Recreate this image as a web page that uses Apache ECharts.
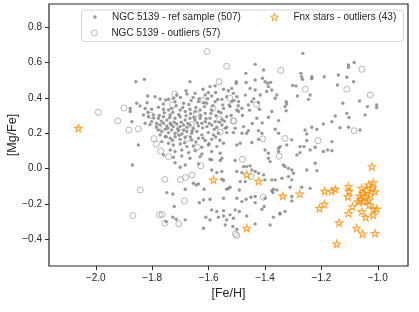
<!DOCTYPE html>
<html><head><meta charset="utf-8">
<script src="https://cdn.jsdelivr.net/npm/echarts@6/dist/echarts.min.js"></script>
<style>html,body{margin:0;padding:0;background:#fff}#c{width:419px;height:312px}</style>
</head><body><div id="c"></div>
<script>
const xTicks = [-2.0,-1.8,-1.6,-1.4,-1.2,-1.0];
const yTicks = [-0.4,-0.2,0.0,0.2,0.4,0.6,0.8];
const refName = 'NGC 5139 - ref sample (507)';
const outName = 'NGC 5139 - outliers (57)';
const fnxName = 'Fnx stars - outliers (43)';

const refSample = [
[-1.858,0.491],[-1.828,0.504],[-1.666,0.491],[-1.595,0.463],[-1.577,0.467],[-1.547,0.448],[-1.530,0.440],
[-1.713,0.416],[-1.677,0.421],[-1.648,0.425],[-1.612,0.416],[-1.601,0.429],[-1.589,0.410],
[-1.816,0.410],[-1.790,0.406],[-1.772,0.393],[-1.752,0.387],[-1.725,0.397],[-1.719,0.378],
[-1.689,0.369],[-1.662,0.384],[-1.636,0.378],[-1.618,0.372],[-1.607,0.369],[-1.577,0.378],[-1.553,0.391],[-1.536,0.406],[-1.527,0.359],
[-1.855,0.369],[-1.843,0.354],[-1.878,0.340],[-1.878,0.322],
[-1.825,0.340],[-1.802,0.335],[-1.778,0.346],[-1.760,0.335],[-1.742,0.331],[-1.731,0.340],[-1.701,0.331],[-1.683,0.322],
[-1.666,0.335],[-1.648,0.322],[-1.630,0.331],[-1.612,0.312],[-1.589,0.331],[-1.565,0.322],[-1.547,0.340],
[-1.831,0.303],[-1.813,0.293],[-1.796,0.303],[-1.778,0.284],[-1.760,0.293],[-1.748,0.274],[-1.736,0.303],[-1.719,0.284],
[-1.701,0.293],[-1.683,0.274],[-1.666,0.284],[-1.648,0.274],[-1.630,0.284],[-1.612,0.265],[-1.595,0.284],[-1.577,0.265],[-1.553,0.278],[-1.536,0.293],
[-1.872,0.265],[-1.825,0.256],[-1.802,0.265],
[-1.784,0.256],[-1.772,0.246],[-1.760,0.256],[-1.748,0.241],[-1.736,0.256],[-1.725,0.237],[-1.713,0.252],[-1.701,0.237],[-1.689,0.246],[-1.677,0.233],[-1.666,0.246],[-1.654,0.227],[-1.636,0.241],[-1.624,0.256],[-1.606,0.237],[-1.589,0.246],[-1.571,0.233],[-1.553,0.246],[-1.541,0.227],
[-1.778,0.218],[-1.766,0.209],[-1.754,0.222],[-1.742,0.203],[-1.731,0.218],[-1.719,0.199],[-1.707,0.214],[-1.695,0.195],[-1.677,0.209],[-1.660,0.199],[-1.642,0.209],[-1.624,0.190],[-1.601,0.203],[-1.583,0.190],[-1.565,0.199],
[-1.772,0.190],[-1.754,0.180],[-1.736,0.171],[-1.719,0.180],[-1.701,0.165],[-1.683,0.177],[-1.660,0.161],[-1.636,0.171],[-1.612,0.158],[-1.589,0.165],
[-1.766,0.152],[-1.742,0.143],[-1.725,0.133],[-1.701,0.139],[-1.677,0.124],[-1.654,0.128],[-1.624,0.120],[-1.601,0.133],[-1.571,0.124],[-1.547,0.143],
[-1.849,0.133],[-1.736,0.105],[-1.719,0.096],[-1.695,0.105],[-1.671,0.090],[-1.648,0.101],[-1.624,0.082],[-1.589,0.096],[-1.559,0.086],
[-1.760,0.077],[-1.725,0.064],[-1.695,0.071],[-1.666,0.058],[-1.630,0.067],[-1.595,0.052],[-1.553,0.058],
[-1.719,0.033],[-1.683,0.020],[-1.636,0.026],[-1.589,0.049],[-1.559,0.045],
[-1.870,0.020],[-1.701,0.007],[-1.589,-0.008],[-1.571,-0.023],[-1.553,-0.017],
[-1.435,0.589],[-1.468,0.538],[-1.405,0.557],[-1.409,0.510],[-1.400,0.491],[-1.391,0.482],[-1.380,0.487],[-1.388,0.463],[-1.376,0.444],[-1.394,0.435],[-1.358,0.416],[-1.364,0.397],
[-1.502,0.491],[-1.502,0.482],[-1.467,0.486],[-1.435,0.500],[-1.518,0.453],[-1.512,0.425],[-1.500,0.406],[-1.453,0.453],[-1.435,0.444],[-1.417,0.416],
[-1.266,0.651],[-1.104,0.585],[-1.104,0.572],[-1.084,0.599],[-1.273,0.538],[-1.270,0.519],[-1.267,0.504],[-1.234,0.519],[-1.234,0.508],[-1.190,0.519],[-1.140,0.529],[-1.110,0.516],[-1.086,0.491],[-1.302,0.469],[-1.290,0.467],[-1.143,0.472],[-1.240,0.416],[-1.246,0.391],[-1.285,0.410],
[-1.124,0.369],[-1.065,0.382],[-1.037,0.350],[-1.004,0.359],[-1.004,0.344],[-1.110,0.312],[-1.102,0.288],[-1.045,0.303],[-1.134,0.231],[-1.104,0.233],[-1.063,0.218],
[-1.748,-0.136],[-1.727,-0.144],[-1.683,-0.117],[-1.654,-0.083],[-1.644,-0.093],[-1.636,-0.087],[-1.616,-0.117],[-1.553,-0.061],[-1.547,-0.068],[-1.530,-0.112],
[-1.618,-0.177],[-1.595,-0.174],[-1.547,-0.168],[-1.722,-0.215],[-1.633,-0.193],[-1.589,-0.234],[-1.571,-0.243],[-1.547,-0.238],
[-1.524,-0.262],[-1.610,-0.275],[-1.595,-0.290],[-1.565,-0.275],[-1.547,-0.268],[-1.536,-0.290],[-1.541,-0.319],[-1.683,-0.290],[-1.618,-0.338],[-1.727,-0.275],[-1.715,-0.287],
[-1.482,-0.187],[-1.435,-0.193],[-1.506,-0.234],[-1.491,-0.243],[-1.514,-0.328],[-1.500,-0.343],[-1.370,-0.275],[-1.347,-0.257],[-1.329,-0.243],[-1.382,-0.319],[-1.411,-0.230],[-1.403,-0.215],[-1.435,-0.313],[-1.512,-0.281],[-1.465,-0.268],
[-1.751,-0.300],[-1.305,-0.183],[-1.347,-0.253],
[-1.518,0.378],[-1.494,0.378],[-1.482,0.341],[-1.524,0.350],[-1.500,0.331],[-1.494,0.322],[-1.459,0.359],[-1.447,0.378],[-1.423,0.373],
[-1.325,0.378],[-1.329,0.350],[-1.323,0.365],[-1.325,0.327],[-1.376,0.322],[-1.429,0.284],[-1.388,0.290],[-1.352,0.271],
[-1.506,0.228],[-1.476,0.237],[-1.459,0.214],[-1.465,0.199],[-1.482,0.199],[-1.423,0.214],[-1.411,0.199],
[-1.536,0.233],[-1.536,0.203],[-1.512,0.203],[-1.364,0.222],[-1.352,0.199],
[-1.305,0.162],[-1.258,0.218],[-1.252,0.195],[-1.234,0.233],[-1.216,0.222],[-1.193,0.252],[-1.163,0.265],[-1.151,0.297],[-1.252,0.158],
[-1.500,0.133],[-1.488,0.143],[-1.447,0.147],[-1.423,0.165],
[-1.400,0.105],[-1.388,0.086],[-1.352,0.115],[-1.352,0.096],[-1.346,0.124],
[-1.276,0.090],[-1.287,0.077],[-1.276,0.124],[-1.262,0.124],[-1.240,0.105],[-1.222,0.120],
[-1.193,0.096],[-1.178,0.105],[-1.163,0.101],[-1.163,0.152],[-1.323,0.133],
[-1.388,0.058],[-1.382,0.039],[-1.335,0.020],[-1.329,0.011],[-1.317,0.001],[-1.305,-0.008],[-1.299,-0.027],
[-1.222,0.030],[-1.252,-0.008],[-1.216,-0.012],
[-1.506,0.045],[-1.476,0.011],[-1.465,0.011],[-1.453,0.015],[-1.447,-0.008],[-1.435,-0.017],
[-1.500,-0.017],[-1.482,-0.023],[-1.423,-0.027],[-1.405,-0.036],[-1.488,-0.074],[-1.470,-0.074],
[-1.400,-0.064],[-1.376,-0.064],[-1.364,-0.064],[-1.340,-0.055],[-1.317,-0.046],[-1.305,-0.064],
[-1.524,-0.106],[-1.536,-0.117],[-1.376,-0.125],[-1.358,-0.121],[-1.311,-0.106],[-1.270,-0.106],
[-1.500,-0.168],[-1.435,-0.158],[-1.400,-0.168],[-1.305,-0.158],[-1.240,-0.112],
[-1.491,-0.121],[-1.467,-0.174],[-1.450,-0.162],[-1.370,-0.117],[-1.372,-0.136],
[-1.795,0.285],[-1.785,0.235],[-1.775,0.300],[-1.768,0.268],[-1.757,0.315],[-1.745,0.228],[-1.738,0.288],[-1.733,0.248],[-1.727,0.318],[-1.722,0.262],
[-1.715,0.355],[-1.710,0.225],[-1.706,0.305],[-1.697,0.262],[-1.692,0.345],[-1.688,0.218],[-1.680,0.298],[-1.674,0.255],[-1.670,0.362],[-1.664,0.310],
[-1.658,0.214],[-1.652,0.290],[-1.645,0.345],[-1.640,0.258],[-1.634,0.395],[-1.628,0.300],[-1.621,0.230],[-1.615,0.350],[-1.609,0.282],[-1.603,0.395],
[-1.598,0.255],[-1.592,0.312],[-1.585,0.355],[-1.580,0.222],[-1.574,0.298],[-1.568,0.390],[-1.562,0.262],[-1.556,0.315],[-1.550,0.360],[-1.544,0.268],
[-1.815,0.318],[-1.808,0.248],[-1.818,0.372],[-1.760,0.365],[-1.742,0.392],[-1.700,0.402],[-1.680,0.440],[-1.655,0.402],[-1.620,0.448],[-1.575,0.430],
[-1.750,0.180],[-1.728,0.160],[-1.705,0.188],[-1.685,0.145],[-1.665,0.178],[-1.645,0.150],[-1.620,0.172],[-1.598,0.140],[-1.575,0.178],[-1.560,0.160],
[-1.520,0.300],[-1.510,0.385],[-1.495,0.355],[-1.480,0.300],[-1.470,0.415],[-1.455,0.330],[-1.445,0.255],[-1.440,0.395],[-1.420,0.335],[-1.410,0.258]
];

const outliers = [
[-1.878,0.806],[-1.606,0.661],[-1.991,0.318],[-1.922,0.269],[-1.901,0.342],[-1.883,0.218],[-1.849,0.224],[-1.794,0.169],[-1.785,0.137],
[-1.536,0.578],[-1.344,0.555],[-1.563,0.491],[-1.728,0.359],[-1.644,0.309],[-1.561,0.278],[-1.510,0.267],[-1.429,0.363],[-1.559,0.206],
[-1.675,0.169],[-1.408,0.168],[-1.329,0.170],[-1.057,0.561],[-1.257,0.448],[-1.110,0.448],[-1.027,0.416],[-1.084,0.214],[-1.212,0.157],
[-1.770,0.099],[-1.742,0.067],[-1.755,-0.062],[-1.842,-0.121],[-1.869,-0.266],[-1.774,-0.262],[-1.765,-0.260],[-1.755,-0.309],
[-1.628,0.015],[-1.659,-0.036],[-1.700,-0.063],[-1.682,-0.051],[-1.686,-0.183],[-1.706,-0.313],[-1.500,-0.379],[-1.505,-0.370],
[-1.406,-0.162],[-1.350,0.070],[-1.450,-0.046],[-1.513,0.270],
[-1.805,0.300],[-1.720,0.420],[-1.660,0.250],[-1.620,0.385],[-1.778,0.232],[-1.585,0.340],[-1.700,0.205],[-1.525,0.398],[-1.640,0.120],[-1.480,0.052]
];

const fnxStars = [
[-2.062,0.228],[-1.583,-0.064],[-1.465,-0.034],[-1.423,-0.072],[-1.337,-0.155],[-1.465,-0.337],[-1.277,-0.143],[-1.207,-0.225],[-1.190,-0.202],
[-1.189,-0.128],[-1.164,-0.128],[-1.151,-0.117],[-1.104,-0.102],[-1.102,-0.128],[-1.106,-0.159],[-1.057,-0.111],[-1.051,-0.140],[-1.033,-0.093],
[-1.016,-0.080],[-1.010,-0.130],[-1.063,-0.155],[-1.045,-0.159],[-1.069,-0.187],[-1.051,-0.187],[-1.033,-0.181],[-1.027,-0.149],[-1.090,-0.215],
[-1.057,-0.243],[-1.016,-0.230],[-1.004,-0.228],[-1.104,-0.253],[-1.043,-0.275],[-1.016,-0.262],[-1.137,-0.306],[-1.075,-0.337],[-1.054,-0.369],
[-1.010,-0.366],[-1.146,-0.426],[-1.021,0.011],[-1.040,-0.122],[-1.020,-0.110],[-1.062,-0.175],[-1.030,-0.205]
];

const starPath = 'path://M50 0 L61.23 34.55 L97.55 34.55 L68.17 55.9 L79.39 90.45 L50 69.1 L20.61 90.45 L31.83 55.9 L2.45 34.55 L38.77 34.55 Z';
const FONT = '"Liberation Sans", Arial, sans-serif';
const TXT = '#262626';
const fmt = v => (Math.abs(v) < 1e-9 ? 0 : v).toFixed(1).replace('-', '\u2212');

const legendText = { fontSize: 10, color: TXT, fontFamily: FONT, lineHeight: 12 };

const chart = echarts.init(document.getElementById('c'), null, { renderer: 'canvas' });
chart.setOption({
  animation: false,
  backgroundColor: '#ffffff',
  grid: { left: 49, right: 11, top: 4, bottom: 46, show: true, borderColor: TXT, borderWidth: 1.2,
          backgroundColor: 'transparent', containLabel: false, outerBoundsMode: 'none' },
  xAxis: {
    type: 'value', min: -2.166, max: -0.893,
    name: '[Fe/H]', nameLocation: 'middle', nameGap: 21, nameMoveOverlap: false,
    nameTextStyle: { fontSize: 12.5, color: TXT, fontFamily: FONT },
    splitLine: { show: false },
    axisLine: { show: false, onZero: false },
    axisTick: { show: true, inside: false, length: 4, lineStyle: { color: TXT, width: 1 }, customValues: xTicks },
    axisLabel: { customValues: xTicks, formatter: fmt, margin: 7, fontSize: 10, color: TXT, fontFamily: FONT }
  },
  yAxis: {
    type: 'value', min: -0.551, max: 0.93,
    name: '[Mg/Fe]', nameLocation: 'middle', nameGap: 30, nameMoveOverlap: false,
    nameTextStyle: { fontSize: 12.5, color: TXT, fontFamily: FONT },
    splitLine: { show: false },
    axisLine: { show: false, onZero: false },
    axisTick: { show: true, inside: false, length: 4, lineStyle: { color: TXT, width: 1 }, customValues: yTicks },
    axisLabel: { customValues: yTicks, formatter: fmt, margin: 7, fontSize: 10, color: TXT, fontFamily: FONT }
  },
  legend: [
    { selectedMode: false, left: 93.25, top: 11, padding: 0, itemWidth: 24, itemHeight: 3.5,
      data: [{ name: refName, icon: 'circle' }], textStyle: legendText,
      itemStyle: { color: '#7f7f7f', borderWidth: 0 } },
    { selectedMode: false, left: 91, top: 27, padding: 0, itemWidth: 24, itemHeight: 6,
      data: [{ name: outName, icon: 'circle' }], textStyle: legendText,
      itemStyle: { color: 'rgba(0,0,0,0)', borderColor: '#9a9a9a', borderWidth: 0.8 } },
    { selectedMode: false, left: 270, top: 11, padding: 0, itemWidth: 28, itemHeight: 7.5, symbolKeepAspect: true,
      data: [{ name: fnxName, icon: starPath }], textStyle: legendText,
      itemStyle: { color: 'rgba(255,255,255,0)', borderColor: '#ff8c00', borderWidth: 1 } }
  ],
  graphic: [{
    type: 'rect', left: 81, top: 9.5, z: 3,
    shape: { width: 322, height: 31.5, r: 3 },
    style: { fill: 'rgba(255,255,255,0.8)', stroke: '#d4d4d4', lineWidth: 1 }
  }],
  series: [
    { name: refName, type: 'scatter', data: refSample, symbol: 'circle', symbolSize: 3.4,
      itemStyle: { color: '#7f7f7f' }, silent: true },
    { name: outName, type: 'scatter', data: outliers, symbol: 'circle', symbolSize: 6,
      itemStyle: { color: 'rgba(0,0,0,0)', borderColor: '#9a9a9a', borderWidth: 0.9 }, silent: true },
    { name: fnxName, type: 'scatter', data: fnxStars, symbol: starPath, symbolSize: 7.5, symbolKeepAspect: true,
      itemStyle: { color: 'rgba(255,255,255,0)', borderColor: '#ff8c00', borderWidth: 1.1 }, silent: true }
  ]
});
</script>
</body></html>
